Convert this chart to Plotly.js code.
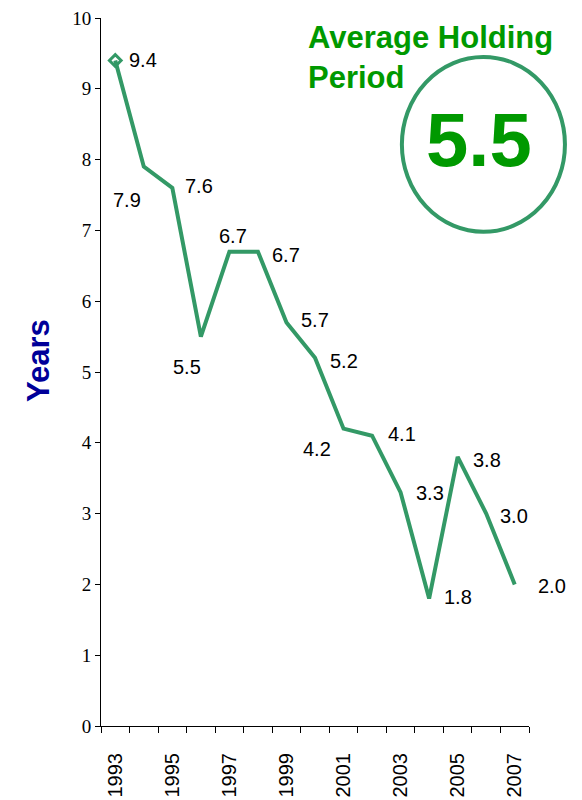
<!DOCTYPE html>
<html>
<head>
<meta charset="utf-8">
<script src="https://cdn.plot.ly/plotly-3.0.1.min.js"></script>
<style>html,body{margin:0;padding:0;background:#fff;}#chart{width:582px;height:800px;}</style>
</head>
<body>
<div id="chart"></div>
<script>
// Data
const years = [1993,1994,1995,1996,1997,1998,1999,2000,2001,2002,2003,2004,2005,2006,2007];
const holdingYears = [9.4,7.9,7.6,5.5,6.7,6.7,5.7,5.2,4.2,4.1,3.3,1.8,3.8,3.0,2.0];
const tickYears = [1993,1995,1997,1999,2001,2003,2005,2007];
const tickLabels = ["1993","1995","1997","1999","2001","2003","2005","2007"];
const averageText = "5.5";
const titleText = "Average Holding<br>Period";
const yTitle = "Years";

// label offsets (pixels) relative to each point
const labelShift = [[28,0],[-17,-33],[27,2],[-14,-30],[4,16],[28,-3],[29,2],[29,-3],[-27,-20],[30,2],[29,-1],[29,2],[29,-3],[28,-2],[37,-2]];

const green = '#339966';
const traces = [
  {x: years, y: holdingYears, type: 'scatter', mode: 'lines',
   line: {color: green, width: 4}, hoverinfo: 'skip', cliponaxis: false},
  {x: [years[0]], y: [holdingYears[0]], type: 'scatter', mode: 'markers',
   marker: {symbol: 'diamond-open', size: 9, color: green, line: {color: green, width: 3}}, cliponaxis: false}
];

const annotations = years.map((yr, i) => ({
  x: yr, y: holdingYears[i], xref: 'x', yref: 'y',
  text: holdingYears[i].toFixed(1), showarrow: false,
  xshift: labelShift[i][0], yshift: labelShift[i][1],
  font: {family: 'Liberation Sans, Arial, sans-serif', size: 20, color: '#000'}
}));

annotations.push({
  xref: 'paper', yref: 'paper', x: 0.48, y: 1.0, xanchor: 'left', yanchor: 'top',
  text: '<b>' + titleText + '</b>', showarrow: false, align: 'left',
  font: {family: 'Liberation Sans, Arial, sans-serif', size: 31, color: '#009900'}
});
annotations.push({
  xref: 'paper', yref: 'paper', x: 0.883, y: 0.828, xanchor: 'center', yanchor: 'middle',
  text: '<b>' + averageText + '</b>', showarrow: false,
  font: {family: 'Liberation Sans, Arial, sans-serif', size: 76, color: '#009900'}
});
annotations.push({
  xref: 'paper', yref: 'paper', x: -0.145, y: 0.517, xanchor: 'center', yanchor: 'middle',
  text: '<b>' + yTitle + '</b>', showarrow: false, textangle: -90,
  font: {family: 'Liberation Sans, Arial, sans-serif', size: 31, color: '#000099'}
});

const layout = {
  width: 582, height: 800,
  margin: {l: 101, r: 53, t: 18, b: 74},
  paper_bgcolor: '#fff', plot_bgcolor: '#fff',
  showlegend: false,
  xaxis: {
    range: [1992.5, 2007.5], showgrid: false, zeroline: false,
    showline: true, linecolor: '#000', linewidth: 1,
    tickmode: 'array', tickvals: tickYears, ticktext: tickLabels,
    ticks: '', tickangle: -90, ticklabelstandoff: 18,
    tickfont: {family: 'Liberation Sans, Arial, sans-serif', size: 20, color: '#000'},
    minor: {tick0: 1992.5, dtick: 1, ticks: 'outside', ticklen: 6, tickcolor: '#000', tickwidth: 1, showgrid: false}
  },
  yaxis: {
    range: [0, 10], dtick: 1, tick0: 0, showgrid: false, zeroline: false,
    showline: true, linecolor: '#000', linewidth: 1,
    ticks: 'outside', ticklen: 5, tickcolor: '#000',
    tickfont: {family: 'Liberation Serif, Times New Roman, serif', size: 19, color: '#000'}
  },
  shapes: [{
    type: 'circle', xref: 'paper', yref: 'paper',
    x0: 0.703, x1: 1.084, y0: 0.698, y1: 0.945,
    line: {color: green, width: 4}
  }],
  annotations: annotations
};

Plotly.newPlot('chart', traces, layout, {displayModeBar: false, staticPlot: true});
</script>
</body>
</html>
